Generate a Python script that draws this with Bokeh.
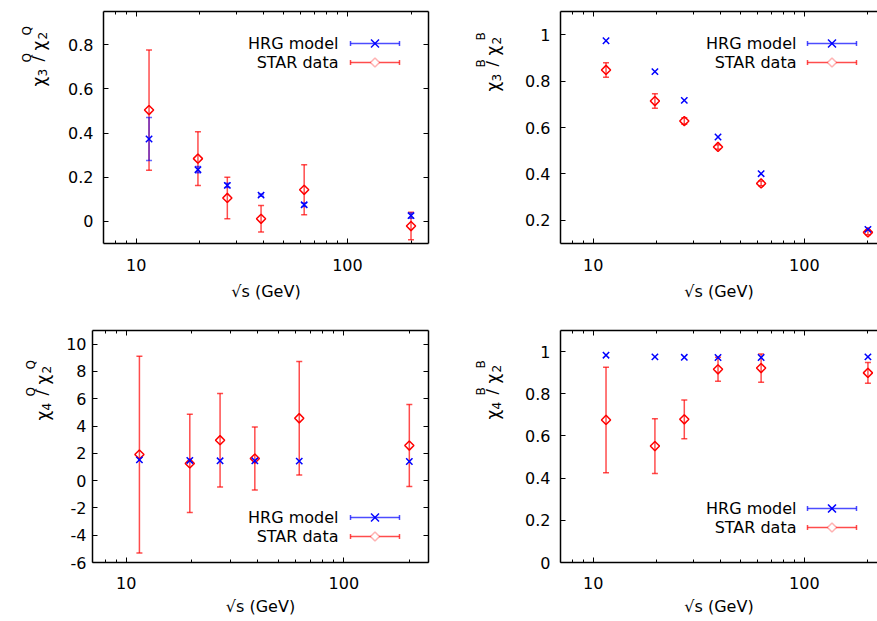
from bokeh.plotting import figure
from bokeh.models import (ColumnDataSource, Whisker, TeeHead, FixedTicker, LinearAxis,
                          LogAxis, Label, Arrow, PolyAnnotation, Range1d)
from bokeh.layouts import row, column
from bokeh.embed import file_html
from bokeh.resources import INLINE

FONT = "DejaVu Sans"
RED = "#ff0000"
BLUE = "#0000ff"

# ---------------- data ----------------
sqrt_s = [11.5, 19.6, 27.0, 39.0, 62.4, 200.0]

x_ticks = [10, 100]
x_tick_labels = ["10", "100"]
x_minor_ticks = [8, 9, 20, 30, 40, 50, 60, 70, 80, 90, 200]
x_title = "√s (GeV)"
legend_labels = ["HRG model", "STAR data"]

# chi3^Q / chi2^Q
hrg_q32 = [0.373, 0.234, 0.163, 0.119, 0.075, 0.026]
hrg_q32_err = [0.097, 0.014, 0.010, 0.005, 0.008, 0.012]
star_q32 = [0.504, 0.284, 0.106, 0.012, 0.143, -0.021]
star_q32_err = [0.272, 0.122, 0.094, 0.060, 0.113, 0.062]
q32_yticks = [0, 0.2, 0.4, 0.6, 0.8]
q32_ylabels = ["0", "0.2", "0.4", "0.6", "0.8"]

# chi3^B / chi2^B
hrg_b32 = [0.974, 0.841, 0.717, 0.559, 0.401, 0.161]
star_b32 = [0.848, 0.714, 0.628, 0.516, 0.359, 0.148]
star_b32_err = [0.031, 0.031, 0.014, 0.010, 0.010, 0.010]
b32_yticks = [0.2, 0.4, 0.6, 0.8, 1]
b32_ylabels = ["0.2", "0.4", "0.6", "0.8", "1"]

# chi4^Q / chi2^Q
hrg_q42 = [1.52, 1.48, 1.45, 1.45, 1.43, 1.40]
star_q42 = [1.91, 1.26, 2.96, 1.62, 4.57, 2.57]
star_q42_err = [7.21, 3.60, 3.43, 2.30, 4.15, 3.00]
q42_yticks = [-6, -4, -2, 0, 2, 4, 6, 8, 10]
q42_ylabels = ["-6", "-4", "-2", "0", "2", "4", "6", "8", "10"]

# chi4^B / chi2^B
hrg_b42 = [0.983, 0.975, 0.973, 0.972, 0.972, 0.975]
star_b42 = [0.676, 0.552, 0.679, 0.916, 0.922, 0.899]
star_b42_err = [0.250, 0.130, 0.092, 0.057, 0.067, 0.049]
b42_yticks = [0, 0.2, 0.4, 0.6, 0.8, 1]
b42_ylabels = ["0", "0.2", "0.4", "0.6", "0.8", "1"]


def style_axis(ax, ticker, labels, show_labels, minor):
    ax.ticker = ticker
    ax.major_label_overrides = labels
    ax.axis_line_color = "black"
    ax.axis_line_width = 1.5
    ax.major_tick_line_color = "black"
    ax.major_tick_line_width = 1
    ax.major_tick_in = 5
    ax.major_tick_out = 0
    if minor:
        ax.minor_tick_line_color = "black"
        ax.minor_tick_line_width = 1
        ax.minor_tick_in = 3
        ax.minor_tick_out = 0
    else:
        ax.minor_tick_line_color = None
    ax.major_label_text_font = FONT
    if show_labels:
        ax.major_label_text_color = "black"
        ax.major_label_text_font_size = "16px"
    else:
        ax.major_label_text_color = None
        ax.major_label_text_font_size = "1px"
        ax.major_label_standoff = 0


def label_fig(width, height, num, sup, xb, y0):
    """Side strip holding the rotated y-axis title with sub/superscripts."""
    f = figure(width=width, height=height, x_range=Range1d(0, width), y_range=Range1d(0, height),
               x_axis_location=None, y_axis_location=None, min_border=0,
               output_backend="svg", toolbar_location=None)
    f.grid.visible = False
    f.outline_line_color = None
    f.border_fill_color = "white"
    pieces = [("χ", 0, 0, 17), (num, 10, 4, 12), (sup, 24, -12, 12),
              ("/", 25, 0, 16), ("χ", 36, 0, 17), ("2", 47, 4, 12), (sup, 51, -12, 12)]
    for text, off, dx, size in pieces:
        f.add_layout(Label(x=xb + dx, y=y0 + off, x_units="screen", y_units="screen",
                           text=text, angle=90, angle_units="deg", text_font=FONT,
                           text_font_size=f"{size}px", text_color="black",
                           text_baseline="alphabetic", text_align="left"))
    return f


def draw_legend(p, tx, ys, lx0, lx1):
    cx = 0.5 * (lx0 + lx1)
    for label, y, color, kind in [(legend_labels[0], ys[0], BLUE, "x"),
                                  (legend_labels[1], ys[1], RED, "d")]:
        p.add_layout(Label(x=tx, y=y, x_units="screen", y_units="screen", text=label,
                           text_align="right", text_baseline="middle", text_font=FONT,
                           text_font_size="16px", text_color="black"))
        p.add_layout(Arrow(x_start=lx0, y_start=y, x_end=lx1, y_end=y,
                           start_units="screen", end_units="screen",
                           start=TeeHead(size=5, line_color=color, line_width=1.5, line_alpha=0.7),
                           end=TeeHead(size=5, line_color=color, line_width=1.5, line_alpha=0.7),
                           line_color=color, line_width=1.5, line_alpha=0.7))
        if kind == "x":
            for d in (4, -4):
                p.add_layout(Arrow(x_start=cx - 4, y_start=y - d, x_end=cx + 4, y_end=y + d,
                                   start_units="screen", end_units="screen", start=None, end=None,
                                   line_color=color, line_width=1.5))
        else:
            p.add_layout(PolyAnnotation(xs=[cx - 4.5, cx, cx + 4.5, cx],
                                        ys=[y, y + 4.5, y, y - 4.5],
                                        xs_units="screen", ys_units="screen",
                                        fill_color="white", fill_alpha=1.0,
                                        line_color=color, line_width=1.5))


def panel(x_end, y_rng, yticks, ylabels, hrg, hrg_err, star, star_err,
          frame_w, bl, br, bt, bb, leg, mirror_right,
          tick_standoff_y, tick_standoff_x, xlab_standoff):
    p = figure(frame_width=frame_w, frame_height=232, x_axis_type="log",
               x_range=Range1d(7, x_end), y_range=Range1d(*y_rng),
               output_backend="svg", toolbar_location=None,
               min_border_left=bl, min_border_right=br,
               min_border_top=bt, min_border_bottom=bb)
    p.grid.visible = False
    p.outline_line_color = None
    p.background_fill_color = "white"
    p.border_fill_color = "white"

    xl = dict(zip(x_ticks, x_tick_labels))
    yl = dict(zip(yticks, ylabels))

    bx = p.below[0]
    style_axis(bx, FixedTicker(ticks=x_ticks, minor_ticks=x_minor_ticks), xl, True, True)
    bx.major_label_standoff = tick_standoff_x
    bx.axis_label = x_title
    bx.axis_label_text_font = FONT
    bx.axis_label_text_font_size = "16px"
    bx.axis_label_text_font_style = "normal"
    bx.axis_label_text_color = "black"
    bx.axis_label_standoff = xlab_standoff

    ly = p.left[0]
    style_axis(ly, FixedTicker(ticks=yticks), yl, True, False)
    ly.major_label_standoff = tick_standoff_y

    top = LogAxis()
    style_axis(top, FixedTicker(ticks=x_ticks, minor_ticks=x_minor_ticks), xl, False, True)
    p.add_layout(top, "above")
    if mirror_right:
        ry = LinearAxis()
        style_axis(ry, FixedTicker(ticks=yticks), yl, False, False)
        p.add_layout(ry, "right")

    src_star = ColumnDataSource(dict(x=sqrt_s, y=star,
                                     lo=[v - e for v, e in zip(star, star_err)],
                                     hi=[v + e for v, e in zip(star, star_err)]))
    p.add_layout(Whisker(source=src_star, base="x", lower="lo", upper="hi",
                         dimension="height", line_color=RED, line_width=1.5, line_alpha=0.7,
                         lower_head=TeeHead(size=6, line_color=RED, line_width=1.5, line_alpha=0.7),
                         upper_head=TeeHead(size=6, line_color=RED, line_width=1.5, line_alpha=0.7)))
    src_hrg = ColumnDataSource(dict(x=sqrt_s, y=hrg))
    if hrg_err is not None:
        src_hrg.data["lo"] = [v - e for v, e in zip(hrg, hrg_err)]
        src_hrg.data["hi"] = [v + e for v, e in zip(hrg, hrg_err)]
        p.add_layout(Whisker(source=src_hrg, base="x", lower="lo", upper="hi",
                             dimension="height", line_color=BLUE, line_width=1.5, line_alpha=0.6,
                             lower_head=TeeHead(size=6, line_color=BLUE, line_width=1.5, line_alpha=0.6),
                             upper_head=TeeHead(size=6, line_color=BLUE, line_width=1.5, line_alpha=0.6)))
    p.scatter("x", "y", source=src_star, marker="square", angle=0.7853981634, size=6.5,
              line_color=RED, line_width=1.5, fill_color=None)
    p.scatter("x", "y", source=src_hrg, marker="x", size=9, line_color=BLUE, line_width=1.5)

    draw_legend(p, leg[0], (leg[1], leg[2]), leg[3], leg[4])
    return p


ROW1_H = 11 + 232 + 67
ROW2_H = 20 + 232 + 58

p1 = panel(242, (-0.1, 0.95), q32_yticks, q32_ylabels, hrg_q32, hrg_q32_err,
           star_q32, star_q32_err, 325, 45, 10, 11, 67,
           (235, 200, 181, 247, 296), True, 10, 15, 8)
p2 = panel(222, (0.1, 1.1), b32_yticks, b32_ylabels, hrg_b32, None,
           star_b32, star_b32_err, 317, 50, 0, 11, 67,
           (236, 200, 181, 247, 296), False, 10, 15, 8)
p3 = panel(245, (-6, 11), q42_yticks, q42_ylabels, hrg_q42, None,
           star_q42, star_q42_err, 336, 34, 10, 20, 58,
           (246, 45, 26, 258, 307), True, 6, 14, 5)
p4 = panel(222, (0, 1.1), b42_yticks, b42_ylabels, hrg_b42, None,
           star_b42, star_b42_err, 317, 50, 0, 20, 58,
           (236, 54, 35, 247, 296), False, 10, 14, 5)

l1 = label_fig(58, ROW1_H, "3", "Q", 38, 157)
l2 = label_fig(72, ROW1_H, "3", "B", 54, 152)
l3 = label_fig(58, ROW2_H, "4", "Q", 42, 142)
l4 = label_fig(72, ROW2_H, "4", "B", 54, 143)

layout = column(row(l1, p1, l2, p2), row(l3, p3, l4, p4))
open("out.html", "w").write(file_html(layout, INLINE))
